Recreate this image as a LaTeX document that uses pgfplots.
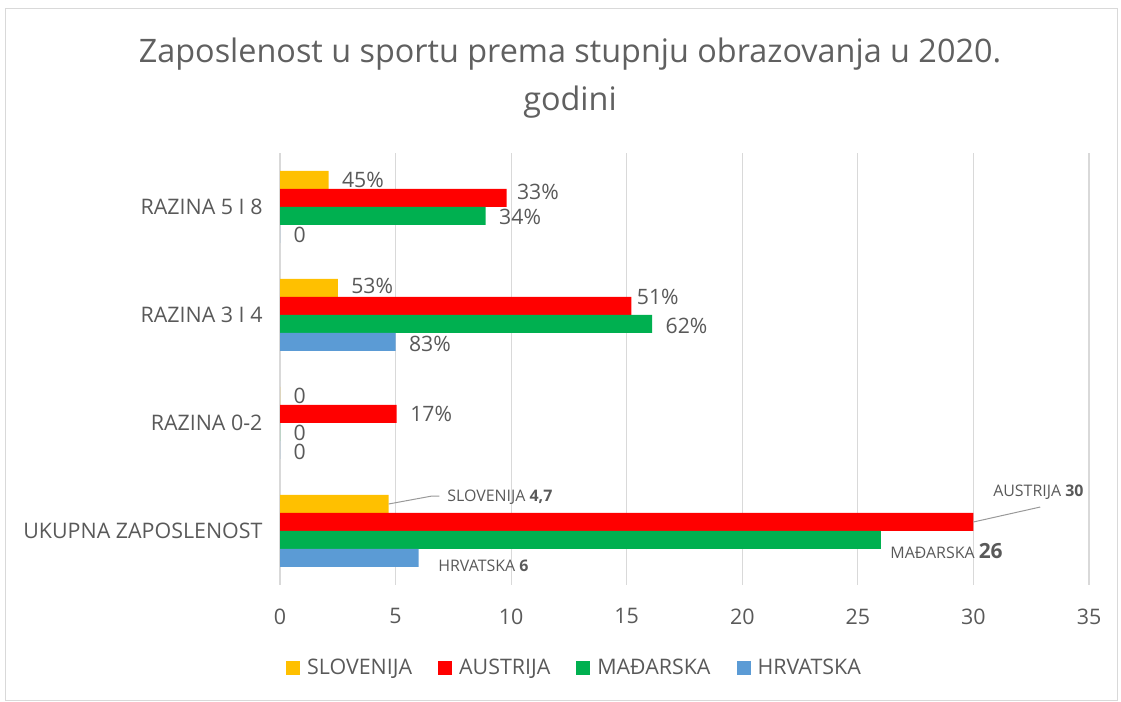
\documentclass[border=0pt]{standalone}
\usepackage{pgfplots}
\pgfplotsset{compat=1.18}
\usepackage{fontspec}
\setmainfont{Open Sans}
\definecolor{txt}{HTML}{595959}
\definecolor{ttl}{HTML}{606060}
\definecolor{cslo}{HTML}{FFC000}
\definecolor{caut}{HTML}{FF0000}
\definecolor{cmad}{HTML}{00B050}
\definecolor{chrv}{HTML}{5B9BD5}
\definecolor{gridc}{HTML}{D9D9D9}
\begin{document}
\begin{tikzpicture}[x=1bp,y=1bp]
\path[use as bounding box] (0,0) rectangle (1121,702);
\draw[gridc, line width=0.8bp] (5,2) rectangle (1117,694);
\node[text=ttl, font=\fontsize{32.5}{48}\selectfont, align=center] at (570,624) {Zaposlenost u sportu prema stupnju obrazovanja u 2020.\\godini};
\begin{axis}[
  at={(280bp,117bp)}, anchor=south west,
  scale only axis, width=809bp, height=432bp,
  xmin=0, xmax=35, ymin=-0.5, ymax=3.5,
  xbar, bar width=0.1667,
  ytick={0,1,2,3},
  yticklabels={UKUPNA ZAPOSLENOST, RAZINA 0-2, RAZINA 3 I 4, RAZINA 5 I 8},
  xtick={0,5,...,35},
  axis line style={draw=none},
  major tick length=0pt,
  xmajorgrids, grid style={color=gridc, line width=1.2bp},
  /pgf/number format/assume math mode=true,
  tick label style={text=txt, font=\fontsize{21.5}{25}\selectfont},
  xticklabel style={yshift=-20bp},
  yticklabel style={xshift=-14bp},
  nodes near coords, point meta=explicit symbolic,
  visualization depends on={\thisrow{dx} \as \dx},
  visualization depends on={\thisrow{dy} \as \dy},
  nodes near coords style={anchor=west, xshift=\dx*1bp, yshift=\dy*1bp, text=txt, font=\fontsize{21.3}{25}\selectfont},
  legend columns=4,
  legend style={draw=none, fill=none, at={(0.3640,-0.192)}, anchor=center,
    font=\fontsize{21.5}{25}\selectfont, text=txt,
    /tikz/every even column/.append style={column sep=24bp}},
  legend image code/.code={\fill[#1] (0bp,-7bp) rectangle (14bp,7bp); \path (19bp,0bp);},
  clip=false,
]
\addplot[fill=cslo, draw=none, bar shift=0.25] table[x=x, y=y, meta=lab] {
x y lab dx dy
4.7 0 {} 0 0
0 1 0 10 0
2.5 2 53\% 10 2
2.1 3 45\% 10 0
};
\addplot[fill=caut, draw=none, bar shift=0.0833] table[x=x, y=y, meta=lab] {
x y lab dx dy
30 0 {} 0 0
5.05 1 17\% 10 0
15.2 2 51\% 2 9
9.8 3 33\% 7 6
};
\addplot[fill=cmad, draw=none, bar shift=-0.0833] table[x=x, y=y, meta=lab] {
x y lab dx dy
26 0 {} 0 0
0 1 0 10 -1
16.1 2 62\% 10 -2
8.9 3 34\% 10 -1
};
\addplot[fill=chrv, draw=none, bar shift=-0.25] table[x=x, y=y, meta=lab] {
x y lab dx dy
6 0 {} 0 0
0 1 0 10 -2
5 2 83\% 10 -2
0 3 0 10 -1
};
\legend{SLOVENIJA, AUSTRIJA, MAĐARSKA, HRVATSKA}
\draw[gray!80, line width=1bp] (axis cs:4.7,0.25) -- (axis cs:6.58,0.324) -- (axis cs:6.9,0.324);
\draw[gray!80, line width=1bp] (axis cs:30,0.0833) -- (axis cs:32.89,0.222);
\node[anchor=west, inner sep=0pt, text=txt, font=\fontsize{16}{20}\selectfont] at (axis cs:7.23,0.315) {SLOVENIJA \textbf{4,7}};
\node[anchor=west, inner sep=0pt, text=txt, font=\fontsize{16}{20}\selectfont] at (axis cs:30.85,0.361) {AUSTRIJA \textbf{30}};
\node[anchor=west, inner sep=0pt, text=txt, font=\fontsize{16}{20}\selectfont] at (axis cs:26.4,-0.185) {MAĐARSKA {\fontsize{21}{25}\selectfont\textbf{26}}};
\node[anchor=west, inner sep=0pt, text=txt, font=\fontsize{16}{20}\selectfont] at (axis cs:6.84,-0.324) {HRVATSKA \textbf{6}};
\end{axis}
\end{tikzpicture}
\end{document}
